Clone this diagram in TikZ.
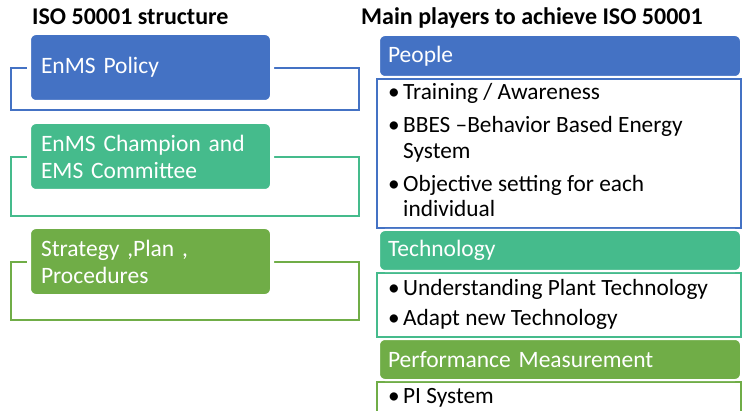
\documentclass[tikz,border=0pt]{standalone}
\usepackage{fontspec}
\setmainfont{Carlito}
\usepackage{tikz}
\usetikzlibrary{positioning}
\definecolor{encblue}{HTML}{4472C4}
\definecolor{encteal}{HTML}{45BB8C}
\definecolor{encgreen}{HTML}{70AD47}
\newcommand\bul{\makebox[15pt][l]{•}}

\begin{document}
\begin{tikzpicture}[x=1pt,y=-1pt,
    title/.style={anchor=base west,inner sep=0pt,font=\bfseries\fontsize{24}{28}\selectfont},
    frame/.style={draw,line width=2pt,anchor=north west,outer sep=0pt,
      minimum width=348pt,inner sep=0pt},
    box/.style={rounded corners=7pt,draw=white,line width=4pt,text=white,
      anchor=north west,outer sep=0pt,minimum width=243pt,minimum height=69pt,
      inner xsep=12pt,text width=219pt,align=left,font=\fontsize{23.5}{27}\selectfont},
    head/.style={rounded corners=6pt,draw=white,line width=2pt,text=white,
      anchor=north west,outer sep=0pt,minimum width=362pt,minimum height=42pt,
      inner xsep=9pt,text width=344pt,align=left,font=\fontsize{23.5}{27}\selectfont},
    body/.style={draw,line width=2pt,anchor=north west,outer sep=0pt,
      minimum width=364pt,inner sep=0pt},
    item/.style={anchor=base west,inner sep=0pt,font=\fontsize{23.3}{26}\selectfont}]
     \clip (0,0) rectangle (743,411);

     %titles
     \node[title] (lefttitle) at (32,25) {ISO 50001 structure};
     \node[title] (righttitle) at (361,25) {Main players to achieve ISO 50001};

     %structure boxes
     \foreach \name/\col/\y/\fy/\fh/\txt in
     {pol/encblue/33/68/42/{EnMS Policy},
      cha/encteal/122/157/59/{EnMS Champion and\\EMS Committee},
      str/encgreen/227/262/58/{Strategy ,Plan ,\\Procedures}}
       {
         \node[frame,draw=\col,minimum height=\fh] (frame\name) at (11,\fy) {};
         \node[box,fill=\col] (box\name) at (29,\y) {\txt};
       }

     %people
     \node[body,draw=encblue,minimum height=149pt] (peoplebody) at (377,79) {};
     \node[head,fill=encblue] (people) at (379,35) {People};
     \node[item] (train) at (388,100) {\bul Training / Awareness};
     \node[item] (bbes) at (388,133) {\bul BBES –Behavior Based Energy};
     \node[item] (bbes2) at (403,159) {System};
     \node[item] (objective) at (388,192) {\bul Objective setting for each};
     \node[item] (objective2) at (403,217) {individual};

     %technology
     \node[body,draw=encteal,minimum height=64pt] (techbody) at (377,273) {};
     \node[head,fill=encteal,minimum height=41pt] (tech) at (379,230) {Technology};
     \node[item] (plant) at (388,295) {\bul Understanding Plant Technology};
     \node[item] (adapt) at (388,325) {\bul Adapt new Technology};

     %performance
     \node[body,draw=encgreen,minimum height=60pt] (perfbody) at (377,382) {};
     \node[head,fill=encgreen,minimum height=41pt] (perf) at (379,339)
       {Performance Measurement};
     \node[item] (pisys) at (388,403) {\bul PI System};
\end{tikzpicture}
\end{document}
